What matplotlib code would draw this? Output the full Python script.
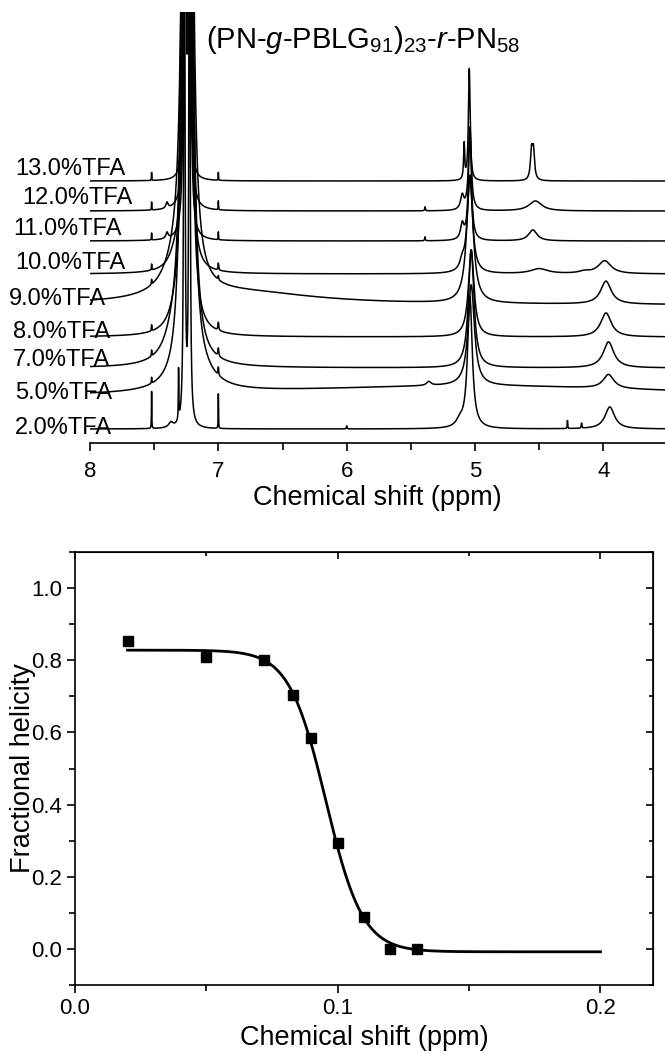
import numpy as np
import matplotlib
matplotlib.use("Agg")
from matplotlib import pyplot as plt
from matplotlib import transforms
from matplotlib.ticker import MultipleLocator

plt.rcParams['font.family'] = ['Liberation Sans', 'DejaVu Sans']
plt.rcParams['mathtext.fontset'] = 'custom'
plt.rcParams['mathtext.rm'] = 'Liberation Sans'
plt.rcParams['mathtext.it'] = 'Liberation Sans:italic'

# ---- top panel: 1H NMR spectra, peaks as (ppm, height, half width)
tfa_labels = ['2.0%TFA', '5.0%TFA', '7.0%TFA', '8.0%TFA', '9.0%TFA',
              '10.0%TFA', '11.0%TFA', '12.0%TFA', '13.0%TFA']
trace_offsets = [14, 45, 75, 106, 138, 169, 202, 232, 262]

peaks_2 = [(7.52, 37, 0.0015), (7.31, 50, 0.002), (7.37, 5, 0.02), (7.265, 700, 0.005),
           (7.225, 700, 0.005), (7.0, 35, 0.0015), (6.0, 3, 0.003), (5.12, 6, 0.03),
           (5.04, 132, 0.022), (4.28, 8, 0.002), (4.17, 5, 0.003), (3.95, 22, 0.045)]
peaks_5 = [(5.0, 12, 2.0), (7.15, 12, 0.15), (7.265, 800, 0.02), (7.22, 800, 0.02),
           (7.52, 6, 0.002), (7.0, 8, 0.003), (5.36, 4, 0.02), (5.03, 101, 0.03),
           (3.96, 14, 0.05)]
peaks_7 = [(7.35, 20, 0.08), (7.265, 800, 0.02), (7.22, 800, 0.02), (7.52, 6, 0.002),
           (7.0, 8, 0.004), (5.03, 118, 0.026), (3.96, 26, 0.05)]
peaks_8 = [(7.32, 18, 0.06), (7.26, 800, 0.015), (7.225, 800, 0.015), (7.52, 6, 0.002),
           (7.0, 8, 0.004), (5.03, 87, 0.026), (3.98, 24, 0.05)]
peaks_9 = [(6.8, 12, 0.7), (7.32, 25, 0.12), (7.26, 800, 0.02), (7.22, 800, 0.02),
           (7.52, 5, 0.002), (7.0, 4, 0.003), (5.04, 128, 0.03), (3.98, 23, 0.05)]
peaks_10 = [(7.33, 15, 0.06), (7.26, 700, 0.012), (7.225, 700, 0.012), (7.52, 6, 0.002),
            (7.0, 7, 0.003), (5.1, 8, 0.02), (5.04, 97, 0.024), (4.5, 5, 0.08),
            (4.15, 2, 0.05), (3.99, 13, 0.06)]
peaks_11 = [(7.26, 600, 0.008), (7.225, 600, 0.008), (7.4, 6, 0.01), (7.52, 7, 0.0015),
            (7.0, 8, 0.0015), (5.39, 4, 0.003), (5.1, 15, 0.015), (5.04, 113, 0.013),
            (4.55, 11, 0.04)]
peaks_12 = [(7.26, 600, 0.008), (7.225, 600, 0.008), (7.4, 6, 0.01), (7.52, 8, 0.0015),
            (7.0, 9, 0.0015), (5.39, 4, 0.003), (5.1, 14, 0.015), (5.04, 83, 0.013),
            (4.53, 10, 0.06)]
peaks_13 = [(7.29, 15, 0.01), (7.26, 600, 0.006), (7.225, 600, 0.006), (7.52, 8, 0.0015),
            (7.0, 8, 0.0015), (5.085, 35, 0.005), (5.045, 112, 0.008), (4.56, 28, 0.01),
            (4.545, 28, 0.01)]
all_peaks = [peaks_2, peaks_5, peaks_7, peaks_8, peaks_9,
             peaks_10, peaks_11, peaks_12, peaks_13]

title_text = r'(PN-$\it{g}$-PBLG$_{91}$)$_{23}$-$\it{r}$-PN$_{58}$'

# ---- bottom panel: fractional helicity
shift = [0.02, 0.05, 0.072, 0.083, 0.09, 0.10, 0.11, 0.12, 0.13]
helicity = [0.854, 0.808, 0.80, 0.705, 0.585, 0.294, 0.088, 0.0, 0.0]
# Boltzmann fit
fit_A1, fit_A2, fit_x0, fit_dx = 0.828, -0.008, 0.0955, 0.007
fit_start, fit_end = 0.02, 0.2


def spectrum(ppm, peaks):
    y = np.zeros_like(ppm)
    for c, h, w in peaks:
        y += h * w ** 2 / (w ** 2 + (ppm - c) ** 2)
    return y


fig = plt.figure(figsize=(6.65, 10.53), dpi=100)

ax1 = fig.add_axes([90 / 665, 1 - 443 / 1053, 575 / 665, 431 / 1053])
ppm = np.linspace(8, 3.5, 12000)
for off, pk in zip(trace_offsets, all_peaks):
    ax1.plot(ppm, off + spectrum(ppm, pk), color='black', lw=1.1)
ax1.set_xlim(8, 3.52)
ax1.set_ylim(0, 431)
for s in ['top', 'left', 'right']:
    ax1.spines[s].set_visible(False)
ax1.spines['bottom'].set_linewidth(1.2)
ax1.set_yticks([])
ax1.xaxis.set_major_locator(MultipleLocator(1))
ax1.xaxis.set_minor_locator(MultipleLocator(0.5))
ax1.tick_params(axis='x', which='major', length=6, width=1.2, labelsize=16, pad=7)
ax1.tick_params(axis='x', which='minor', length=5, width=1.2)
ax1.set_xlabel('Chemical shift (ppm)', fontsize=19.5, labelpad=2)

label_x = [15, 15, 13, 13, 9, 15, 13, 22, 15]
label_lift = [1, 5, 8, 5, 6, 11, 12, 13, 12]
tr = transforms.blended_transform_factory(fig.transFigure, ax1.transData)
for lab, off, lx, lift in zip(tfa_labels, trace_offsets, label_x, label_lift):
    ax1.text(lx / 665, off + lift, lab, transform=tr, fontsize=17,
             ha='left', va='center', clip_on=False, zorder=0)

fig.text(206 / 665, 1 - 40 / 1053, title_text, fontsize=21, ha='left', va='center')

ax2 = fig.add_axes([75 / 665, 1 - 985 / 1053, 578 / 665, 433 / 1053])
xf = np.linspace(fit_start, fit_end, 400)
yf = (fit_A1 - fit_A2) / (1 + np.exp((xf - fit_x0) / fit_dx)) + fit_A2
ax2.plot(xf, yf, color='black', lw=2.0)
ax2.plot(shift, helicity, 's', color='black', ms=6.5)
ax2.set_xlim(0, 0.22)
ax2.set_ylim(-0.1, 1.1)
ax2.xaxis.set_major_locator(MultipleLocator(0.1))
ax2.xaxis.set_minor_locator(MultipleLocator(0.05))
ax2.yaxis.set_major_locator(MultipleLocator(0.2))
ax2.yaxis.set_minor_locator(MultipleLocator(0.1))
ax2.set_xticks([0.0, 0.1, 0.2])
ax2.set_xticklabels(['0.0', '0.1', '0.2'])
for s in ax2.spines.values():
    s.set_linewidth(1.2)
ax2.tick_params(which='major', length=6, width=1.2, labelsize=16, direction='out')
ax2.tick_params(which='minor', length=4, width=1.2, direction='out')
ax2.set_xlabel('Chemical shift (ppm)', fontsize=19.5, labelpad=4)
ax2.set_ylabel('Fractional helicity', fontsize=19.5, labelpad=-4)

# mirrored ticks on top and right, pointing in
ax2t = ax2.secondary_xaxis('top')
ax2t.xaxis.set_major_locator(MultipleLocator(0.1))
ax2t.xaxis.set_minor_locator(MultipleLocator(0.05))
ax2t.tick_params(which='major', direction='in', length=5, width=1.2, labeltop=False)
ax2t.tick_params(which='minor', direction='in', length=3, width=1.2)
ax2r = ax2.secondary_yaxis('right')
ax2r.yaxis.set_major_locator(MultipleLocator(0.2))
ax2r.yaxis.set_minor_locator(MultipleLocator(0.1))
ax2r.tick_params(which='major', direction='in', length=5, width=1.2, labelright=False)
ax2r.tick_params(which='minor', direction='in', length=3, width=1.2)

fig.savefig('out.png', dpi=100)
